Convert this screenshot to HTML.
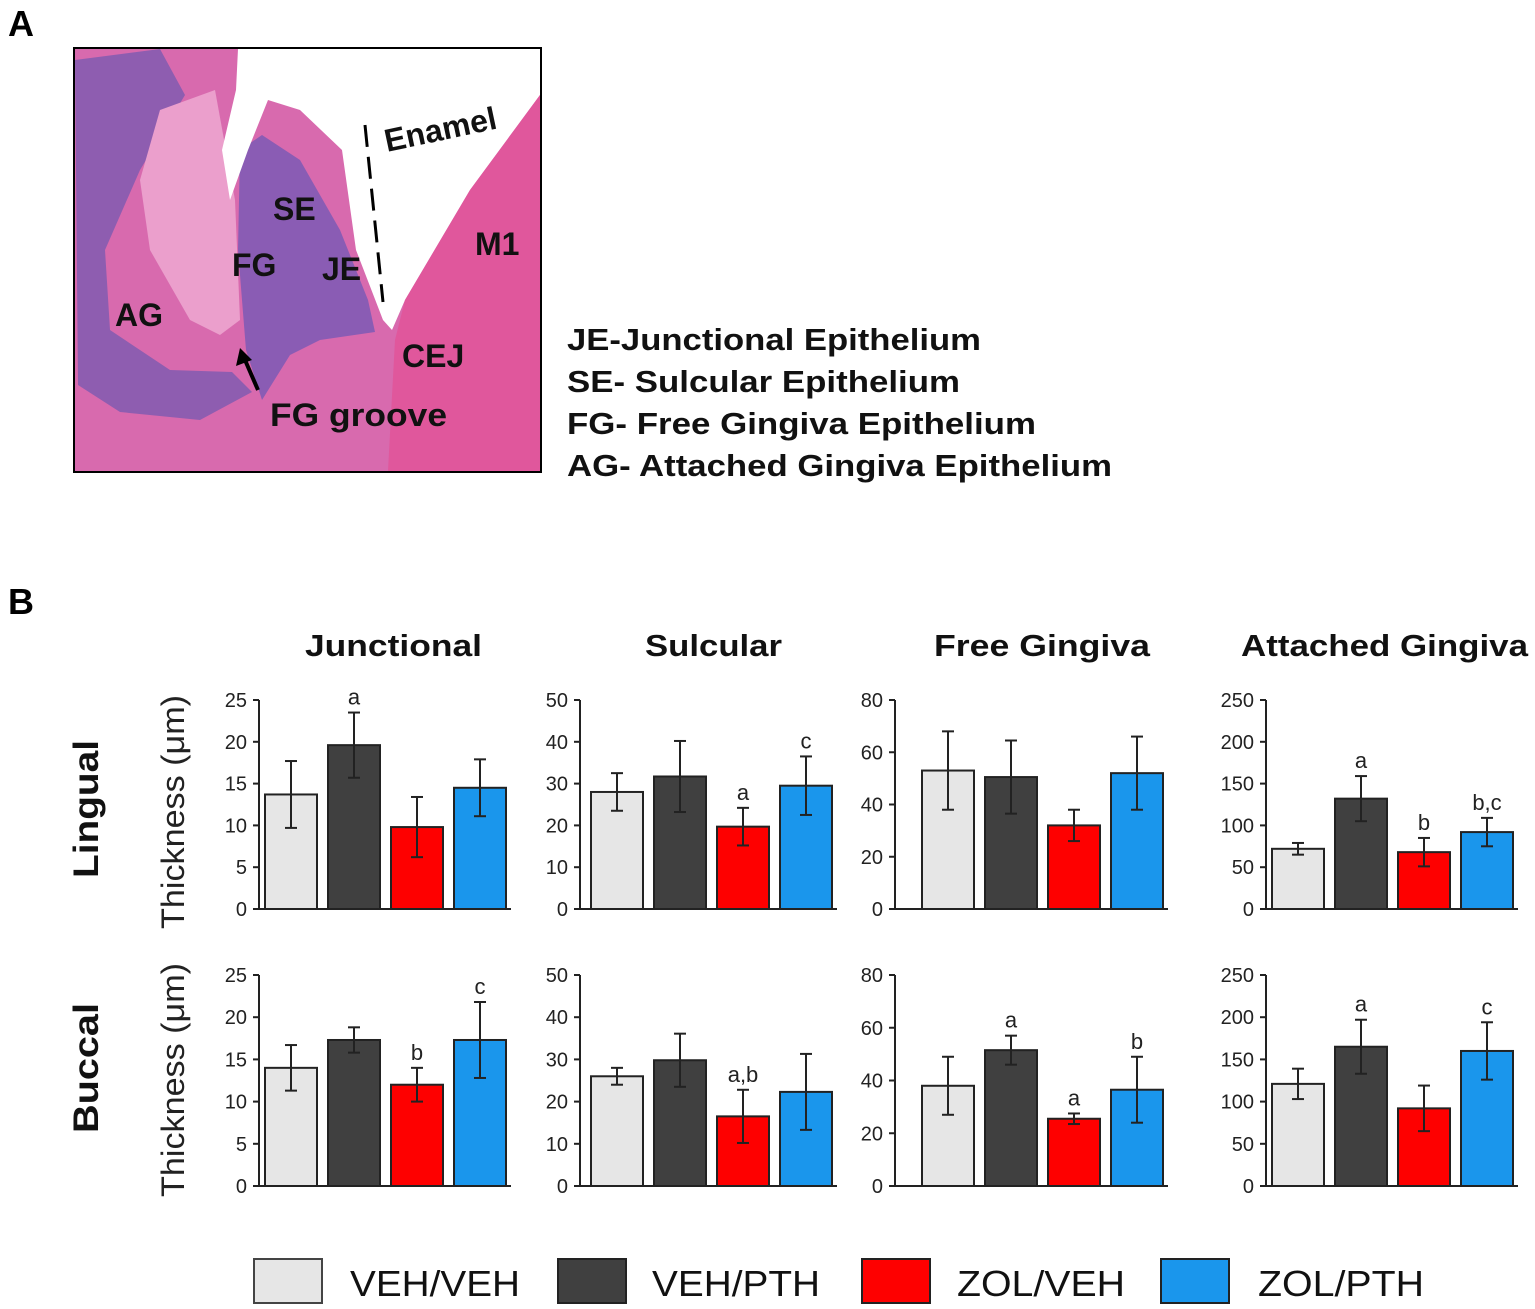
<!DOCTYPE html>
<html><head><meta charset="utf-8">
<style>
html,body{margin:0;padding:0;background:#fff;}
svg{display:block;font-family:"Liberation Sans",Arial,sans-serif;}
</style></head>
<body>
<svg id="fig" width="1535" height="1309" viewBox="0 0 1535 1309" xmlns="http://www.w3.org/2000/svg">
  <text x="8" y="36" font-size="36" font-weight="bold">A</text>
  <g>
    <rect x="74" y="48" width="467" height="424" fill="#d86aae"/>
    <polygon fill="#8e5db0" points="75,60 160,49 185,95 140,170 105,250 110,330 170,370 232,372 252,392 200,420 120,412 78,385"/>
    <polygon fill="#eb9fcc" points="160,110 215,90 235,200 240,320 220,335 190,320 150,250 140,180"/>
    <polygon fill="#8a5cb4" points="240,150 262,135 300,160 340,230 368,300 375,332 320,340 290,355 262,400 246,350 238,250"/>
    <polygon fill="#ffffff" points="238,49 540,49 540,95 470,190 405,300 392,330 383,320 356,250 342,150 300,110 268,100 248,150 230,200 222,150 236,90"/>
    <polygon fill="#e0579c" points="540,95 540,471 388,471 395,340 405,300 470,190"/>
    <line x1="365" y1="125" x2="383" y2="302" stroke="#000" stroke-width="3" stroke-dasharray="22,10"/>
    <rect x="74" y="48" width="467" height="424" fill="none" stroke="#000" stroke-width="2"/>
    <g font-weight="bold" font-size="32" fill="#111">
      <text x="387" y="152" transform="rotate(-12 387 152)">Enamel</text>
      <text x="273" y="220">SE</text>
      <text x="232" y="276">FG</text>
      <text x="322" y="280">JE</text>
      <text x="115" y="326">AG</text>
      <text x="475" y="255">M1</text>
      <text x="402" y="367">CEJ</text>
      <text x="270" y="426" textLength="177" lengthAdjust="spacingAndGlyphs">FG groove</text>
    </g>
    <line x1="258" y1="390" x2="245" y2="360" stroke="#000" stroke-width="4"/>
    <polygon points="240,348 236,366 252,360" fill="#000"/>
  </g>
  <g font-weight="bold" font-size="31" fill="#111">
    <text x="567" y="350" textLength="414" lengthAdjust="spacingAndGlyphs">JE-Junctional Epithelium</text>
    <text x="567" y="392" textLength="393" lengthAdjust="spacingAndGlyphs">SE- Sulcular Epithelium</text>
    <text x="567" y="434" textLength="469" lengthAdjust="spacingAndGlyphs">FG- Free Gingiva Epithelium</text>
    <text x="567" y="476" textLength="545" lengthAdjust="spacingAndGlyphs">AG- Attached Gingiva Epithelium</text>
  </g>
  <text x="8" y="614" font-size="36" font-weight="bold">B</text>
  <g id="charts"></g>
  <g font-size="36" fill="#111">
    <rect x="254" y="1259" width="68" height="44" fill="#e6e6e6" stroke="#444" stroke-width="2"/>
    <text x="350" y="1296" textLength="170" lengthAdjust="spacingAndGlyphs">VEH/VEH</text>
    <rect x="558" y="1259" width="68" height="44" fill="#404040" stroke="#222" stroke-width="2"/>
    <text x="652" y="1296" textLength="168" lengthAdjust="spacingAndGlyphs">VEH/PTH</text>
    <rect x="862" y="1259" width="68" height="44" fill="#fe0000" stroke="#222" stroke-width="2"/>
    <text x="957" y="1296" textLength="168" lengthAdjust="spacingAndGlyphs">ZOL/VEH</text>
    <rect x="1161" y="1259" width="68" height="44" fill="#1a96ec" stroke="#222" stroke-width="2"/>
    <text x="1258" y="1296" textLength="166" lengthAdjust="spacingAndGlyphs">ZOL/PTH</text>
  </g>
</svg>
<script>
const groups = ['VEH/VEH','VEH/PTH','ZOL/VEH','ZOL/PTH'];
const titles = ['Junctional','Sulcular','Free Gingiva','Attached Gingiva'];
const yMaxes = [25,50,80,250];
const tickSteps = [5,10,20,50];
const lingualMeans = [[13.7,19.6,9.8,14.5],[28,31.7,19.7,29.5],[53,50.5,32,52],[72,132,68,92]];
const lingualErrs = [[4,3.9,3.6,3.4],[4.5,8.5,4.5,7],[15,14,6,14],[7,27,17,17]];
const lingualSig = [['','a','',''],['','','a','c'],['','','',''],['','a','b','b,c']];
const buccalMeans = [[14,17.3,12,17.3],[26,29.8,16.5,22.3],[38,51.5,25.5,36.5],[121,165,92,160]];
const buccalErrs = [[2.7,1.5,2,4.5],[2,6.3,6.3,9],[11,5.5,2,12.5],[18,32,27,34]];
const buccalSig = [['','','b','c'],['','','a,b',''],['','a','a','b'],['','a','','c']];

const NS='http://www.w3.org/2000/svg';
const colors=['#e6e6e6','#404040','#fe0000','#1a96ec'];
const axisX=[259,580,895,1266];
const firstBar=[265,591,922,1272];
const barW=52, pitch=63;
const rows=[{top:700,base:909,means:lingualMeans,errs:lingualErrs,sig:lingualSig,name:'lingual'},
            {top:975,base:1186,means:buccalMeans,errs:buccalErrs,sig:buccalSig,name:'buccal'}];
const root=document.getElementById('charts');
function mk(tag,attrs,parent){const e=document.createElementNS(NS,tag);for(const k in attrs)e.setAttribute(k,attrs[k]);(parent||root).appendChild(e);return e;}
const tcx=[305,645,934,1241];
const tlen=[177,137,216,287];
titles.forEach((t,i)=>{const e=mk('text',{x:tcx[i],y:656,'font-size':31,'font-weight':'bold',fill:'#111',textLength:tlen[i],lengthAdjust:'spacingAndGlyphs'});e.textContent=t;

});
[['Lingual',809,138],['Buccal',1068,130]].forEach(([t,y,L],i)=>{const e=mk('text',{x:0,y:0,'font-size':35,'font-weight':'bold','text-anchor':'middle',fill:'#111',textLength:L,lengthAdjust:'spacingAndGlyphs',transform:`translate(98 ${y}) rotate(-90)`});e.textContent=t;

});
[812,1080].forEach((y,i)=>{const e=mk('text',{x:0,y:0,'font-size':32,'text-anchor':'middle',fill:'#222',textLength:234,lengthAdjust:'spacingAndGlyphs',transform:`translate(184 ${y}) rotate(-90)`});e.textContent='Thickness (μm)';

});
rows.forEach(r=>{
  for(let p=0;p<4;p++){
    const g=mk('g',{});
    
    
    const yS=v=>r.base-(v/yMaxes[p])*(r.base-r.top);
    const ax=axisX[p];
    mk('line',{x1:ax,y1:r.top,x2:ax,y2:r.base,stroke:'#222','stroke-width':2},g);
    const xEnd=firstBar[p]+3*pitch+barW+5;
    mk('line',{x1:ax-6,y1:r.base,x2:xEnd,y2:r.base,stroke:'#222','stroke-width':2},g);
    for(let v=0;v<=yMaxes[p];v+=tickSteps[p]){
      mk('line',{x1:ax-6,y1:yS(v),x2:ax,y2:yS(v),stroke:'#222','stroke-width':2},g);
      const t=mk('text',{x:ax-12,y:yS(v)+7,'font-size':20,'text-anchor':'end',fill:'#222'},g);t.textContent=v;
      
      
    }
    for(let b=0;b<4;b++){
      const x=firstBar[p]+b*pitch, m=r.means[p][b], e=r.errs[p][b];
      const rc=mk('rect',{x:x,y:yS(m),width:barW,height:r.base-yS(m),fill:colors[b],stroke:'#222','stroke-width':2},g);
      
      
      const cx=x+barW/2;
      mk('line',{x1:cx,y1:yS(m+e),x2:cx,y2:yS(m-e),stroke:'#222','stroke-width':2},g);
      mk('line',{x1:cx-6,y1:yS(m+e),x2:cx+6,y2:yS(m+e),stroke:'#222','stroke-width':2},g);
      mk('line',{x1:cx-6,y1:yS(m-e),x2:cx+6,y2:yS(m-e),stroke:'#222','stroke-width':2},g);
      if(r.sig[p][b]){const s=mk('text',{x:cx,y:yS(m+e)-8,'font-size':22,'text-anchor':'middle',fill:'#222'},g);s.textContent=r.sig[p][b];
      
      }
    }
  }
});
</script>
</body></html>
